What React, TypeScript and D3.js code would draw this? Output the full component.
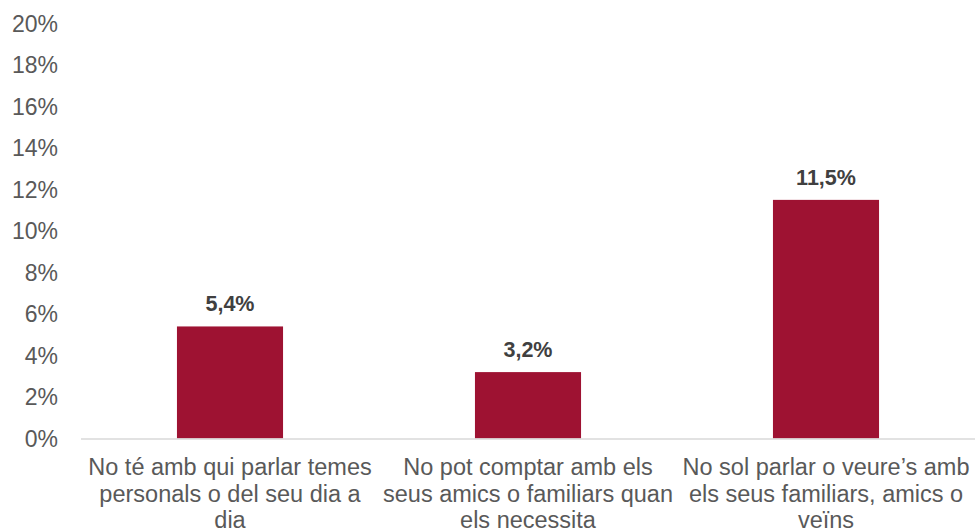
import React from "react";
import * as d3 from "d3";

const categories: string[][] = [
  ["No té amb qui parlar temes", "personals o del seu dia a", "dia"],
  ["No pot comptar amb els", "seus amics o familiars quan", "els necessita"],
  ["No sol parlar o veure’s amb", "els seus familiars, amics o", "veïns"],
];
const values: number[] = [5.4, 3.2, 11.5];
const valueLabels: string[] = ["5,4%", "3,2%", "11,5%"];
const yTicks: number[] = [0, 2, 4, 6, 8, 10, 12, 14, 16, 18, 20];

const W = 975;
const H = 531;
const FONT = "'Liberation Sans', Arial, sans-serif";

export default function App() {
  const keys = categories.map((_, i) => String(i));
  const x = d3
    .scaleBand<string>()
    .domain(keys)
    .range([81, 975])
    .paddingInner(0.644)
    .paddingOuter(0.322);
  const y = d3.scaleLinear().domain([0, 20]).range([438.5, 23.5]);

  return (
    <div style={{ position: "absolute", left: 0, top: 0 }}>
      <svg width={W} height={H} style={{ display: "block" }}>
        <rect width={W} height={H} fill="#ffffff" />
        {yTicks.map((t) => (
          <text
            key={t}
            x={58}
            y={y(t)}
            dy="0.35em"
            textAnchor="end"
            fontFamily={FONT}
            fontSize={23}
            fill="#595959"
          >
            {t}%
          </text>
        ))}
        {values.map((v, i) => (
          <rect
            key={i}
            x={x(String(i))}
            y={y(v)}
            width={x.bandwidth()}
            height={y(0) - y(v)}
            fill="#9E1232"
          />
        ))}
        <line x1={81} x2={975} y1={y(0) + 0.5} y2={y(0) + 0.5} stroke="#d9d9d9" strokeWidth={1.5} />
        {values.map((v, i) => (
          <text
            key={i}
            x={(x(String(i)) as number) + x.bandwidth() / 2}
            y={y(v) - 15}
            textAnchor="middle"
            fontFamily={FONT}
            fontSize={21.5}
            fontWeight="bold"
            fill="#404040"
          >
            {valueLabels[i]}
          </text>
        ))}
        {categories.map((lines, i) => (
          <text
            key={i}
            textAnchor="middle"
            fontFamily={FONT}
            fontSize={23.5}
            fill="#595959"
          >
            {lines.map((ln, j) => (
              <tspan key={j} x={(x(String(i)) as number) + x.bandwidth() / 2} y={475 + j * 26.5}>
                {ln}
              </tspan>
            ))}
          </text>
        ))}
      </svg>
    </div>
  );
}
